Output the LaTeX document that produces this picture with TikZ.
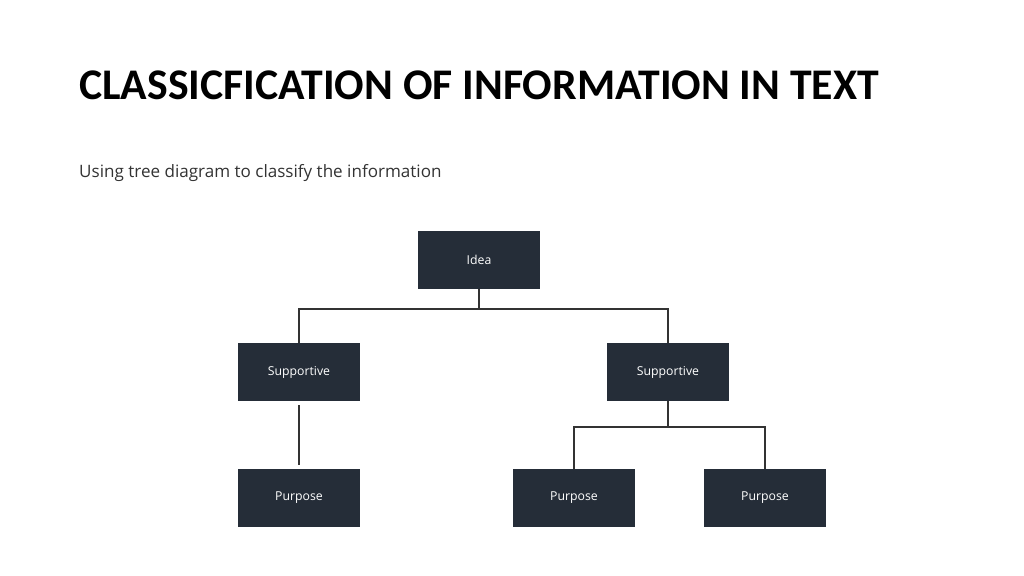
\documentclass[tikz,border=0pt]{standalone}
\usepackage{fontspec}
\setmainfont{Carlito}
\newfontfamily\boxfont{Open Sans}
\usetikzlibrary{positioning}
\definecolor{boxdark}{HTML}{252D38}
\definecolor{linedark}{HTML}{333333}

\begin{document}
\begin{tikzpicture}[x=0.9375pt,y=-0.9375pt]
    \tikzset{
        treebox/.style={fill=boxdark, draw=none, minimum width=114pt, minimum height=54pt,
            text=white, font=\boxfont\fontsize{11.5}{13}\selectfont},
        branch/.style={draw=linedark, line width=1.6pt}
    }
    \useasboundingbox (0,0) rectangle (1024,576);

    % Heading
    \node[anchor=base west, inner sep=0pt, font=\bfseries\fontsize{41}{48}\selectfont, text=black]
        (title) at (79,100) {CLASSICFICATION OF INFORMATION IN TEXT};
    \node[anchor=base west, inner sep=0pt, font=\boxfont\fontsize{16}{19}\selectfont, text=black!80]
        (sub) at (79,177) {Using tree diagram to classify the information};

    % Tree
    \node[treebox] (idea) at (479,260) {Idea};
    \node[treebox] (supl) at (299,372) {Supportive};
    \node[treebox] (supr) at (668,372) {Supportive};
    \node[treebox] (purl) at (299,498) {Purpose};
    \node[treebox] (purm) at (574,498) {Purpose};
    \node[treebox] (purr) at (765,498) {Purpose};

    \draw[branch] (idea.south) -- ++(0,20) -| (supl.north);
    \draw[branch] (idea.south) ++(0,20) -| (supr.north);
    \draw[branch] ([yshift=-4pt]supl.south) -- ([yshift=4pt]purl.north);
    \draw[branch] (supr.south) -- ++(0,26) -| (purm.north);
    \draw[branch] (supr.south) ++(0,26) -| (purr.north);
\end{tikzpicture}
\end{document}
